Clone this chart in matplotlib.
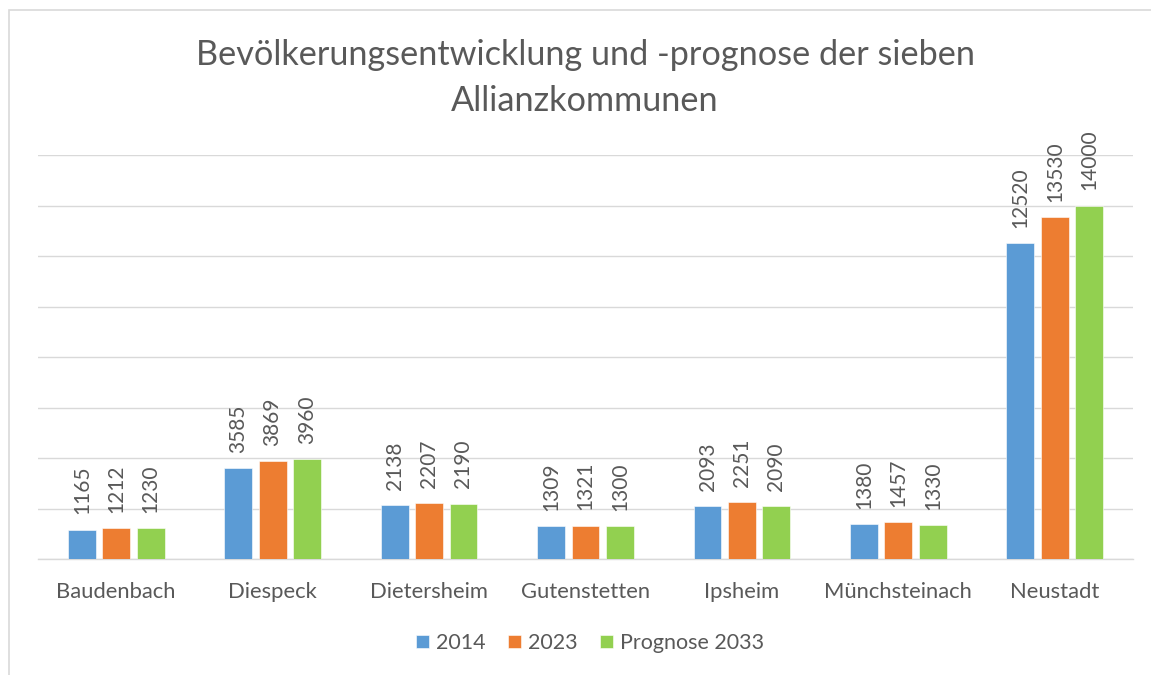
import matplotlib
matplotlib.use("Agg")
import matplotlib.pyplot as plt
from matplotlib.patches import Rectangle
import numpy as np

categories = ["Baudenbach", "Diespeck", "Dietersheim", "Gutenstetten", "Ipsheim", "Münchsteinach", "Neustadt"]
series_names = ["2014", "2023", "Prognose 2033"]
v2014 = [1165, 3585, 2138, 1309, 2093, 1380, 12520]
v2023 = [1212, 3869, 2207, 1321, 2251, 1457, 13530]
v2033 = [1230, 3960, 2190, 1300, 2090, 1330, 14000]
colors = ["#5B9BD5", "#ED7D31", "#92D050"]
title = "Bevölkerungsentwicklung und -prognose der sieben\nAllianzkommunen"

plt.rcParams['font.family'] = ['Lato', 'DejaVu Sans']
txt = "#595959"

W, H = 1151, 675
fig = plt.figure(figsize=(W/100, H/100), dpi=100)
ax = fig.add_axes([38/W, 116/H, (1133-38)/W, (559-155)/H])

x = np.arange(len(categories))
bw = 0.178
step = 0.22
for i, (vals, c, name) in enumerate(zip([v2014, v2023, v2033], colors, series_names)):
    pos = x + (i-1)*step
    ax.bar(pos, vals, width=bw, color=c, label=name, zorder=3, edgecolor='white', linewidth=0.4)
    for p, v in zip(pos, vals):
        ax.annotate(str(v), (p, v), xytext=(0, 11), textcoords='offset points',
                    rotation=90, ha='center', va='bottom', fontsize=15, color=txt, zorder=4)

ax.set_xlim(-0.5, len(categories)-0.5)
ax.set_ylim(0, 16000)
ax.set_yticks(np.arange(0, 16001, 2000))
ax.yaxis.grid(True, color="#D9D9D9", linewidth=1.0, zorder=0)
ax.tick_params(axis='y', left=False, labelleft=False)
ax.tick_params(axis='x', bottom=False, labelsize=15.8, labelcolor=txt, pad=13)
ax.set_xticks(x)
ax.set_xticklabels(categories)
for s in ['top', 'right', 'left']:
    ax.spines[s].set_visible(False)
ax.spines['bottom'].set_color("#D9D9D9")
ax.spines['bottom'].set_linewidth(1.0)

fig.text(585/W, 1-78/H, title, ha='center', va='center', fontsize=24.7, color=txt, linespacing=1.52)

fig.legend(loc='center', bbox_to_anchor=(590/W, 1-643/H), ncol=3, frameon=False,
           fontsize=15.5, handlelength=0.6, handleheight=0.6, handletextpad=0.32,
           columnspacing=1.05, labelcolor=txt)

fig.patches.append(Rectangle((9/W, -0.1), 1.2, 1.1 - 10/H, transform=fig.transFigure,
                             fill=False, edgecolor="#D9D9D9", linewidth=1.2, clip_on=False))

fig.savefig("out.png", dpi=100)
